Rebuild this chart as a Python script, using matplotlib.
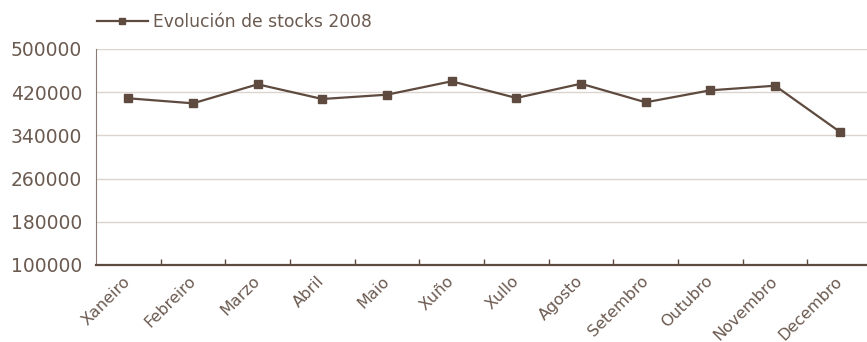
import numpy as np
import matplotlib
matplotlib.use('Agg')
import matplotlib.pyplot as plt

meses = ['Xaneiro', 'Febreiro', 'Marzo', 'Abril', 'Maio', 'Xuño',
         'Xullo', 'Agosto', 'Setembro', 'Outubro', 'Novembro', 'Decembro']
stocks = [408700, 399400, 434600, 407400, 415400, 440200,
          409300, 435700, 401300, 423500, 432000, 346900]
yticks = [100000, 180000, 260000, 340000, 420000, 500000]

col_line = '#5e4a3e'
col_text = '#6b5a50'
col_grid = '#dcd5cf'

plt.rcParams['font.family'] = ['DejaVu Sans']

fig = plt.figure(figsize=(8.67, 3.42), dpi=100)
ax = fig.add_axes([96 / 867, 77 / 342, 776 / 867, 216 / 342])

x = np.arange(len(meses))
ax.plot(x, stocks, color=col_line, linewidth=1.6, marker='s', markersize=6,
        label='Evolución de stocks 2008')

ax.set_xlim(-0.5, len(meses) - 0.5)
ax.set_ylim(100000, 500000)
ax.set_yticks(yticks)
ax.set_yticklabels([str(v) for v in yticks])
ax.yaxis.grid(True, color=col_grid, linewidth=1)
ax.set_axisbelow(True)

# ticks on the category boundaries, labels at the centres
ax.set_xticks(np.arange(0.5, len(meses) - 0.5, 1))
ax.set_xticklabels([])
ax.set_xticks(x, minor=True)
ax.set_xticklabels(meses, minor=True, rotation=45, ha='right', va='center',
                   rotation_mode='anchor', fontsize=11.5, color=col_text)
ax.tick_params(axis='x', which='major', direction='in', length=4,
               width=1, color=col_line)
ax.tick_params(axis='x', which='minor', length=0, pad=10)
ax.tick_params(axis='y', length=0, pad=10, labelsize=13.5, labelcolor=col_text)

for s in ['top', 'right']:
    ax.spines[s].set_visible(False)
ax.spines['left'].set_color('#8a7b72')
ax.spines['bottom'].set_color(col_line)
ax.spines['bottom'].set_linewidth(1.6)

fig.legend(loc='center left', bbox_to_anchor=(88 / 867, 1 - 22 / 342),
           frameon=False, fontsize=12.3, handlelength=3.0, handletextpad=0.3,
           borderpad=0, labelcolor=col_text, markerscale=0.8)

fig.savefig('out.png', dpi=100)
